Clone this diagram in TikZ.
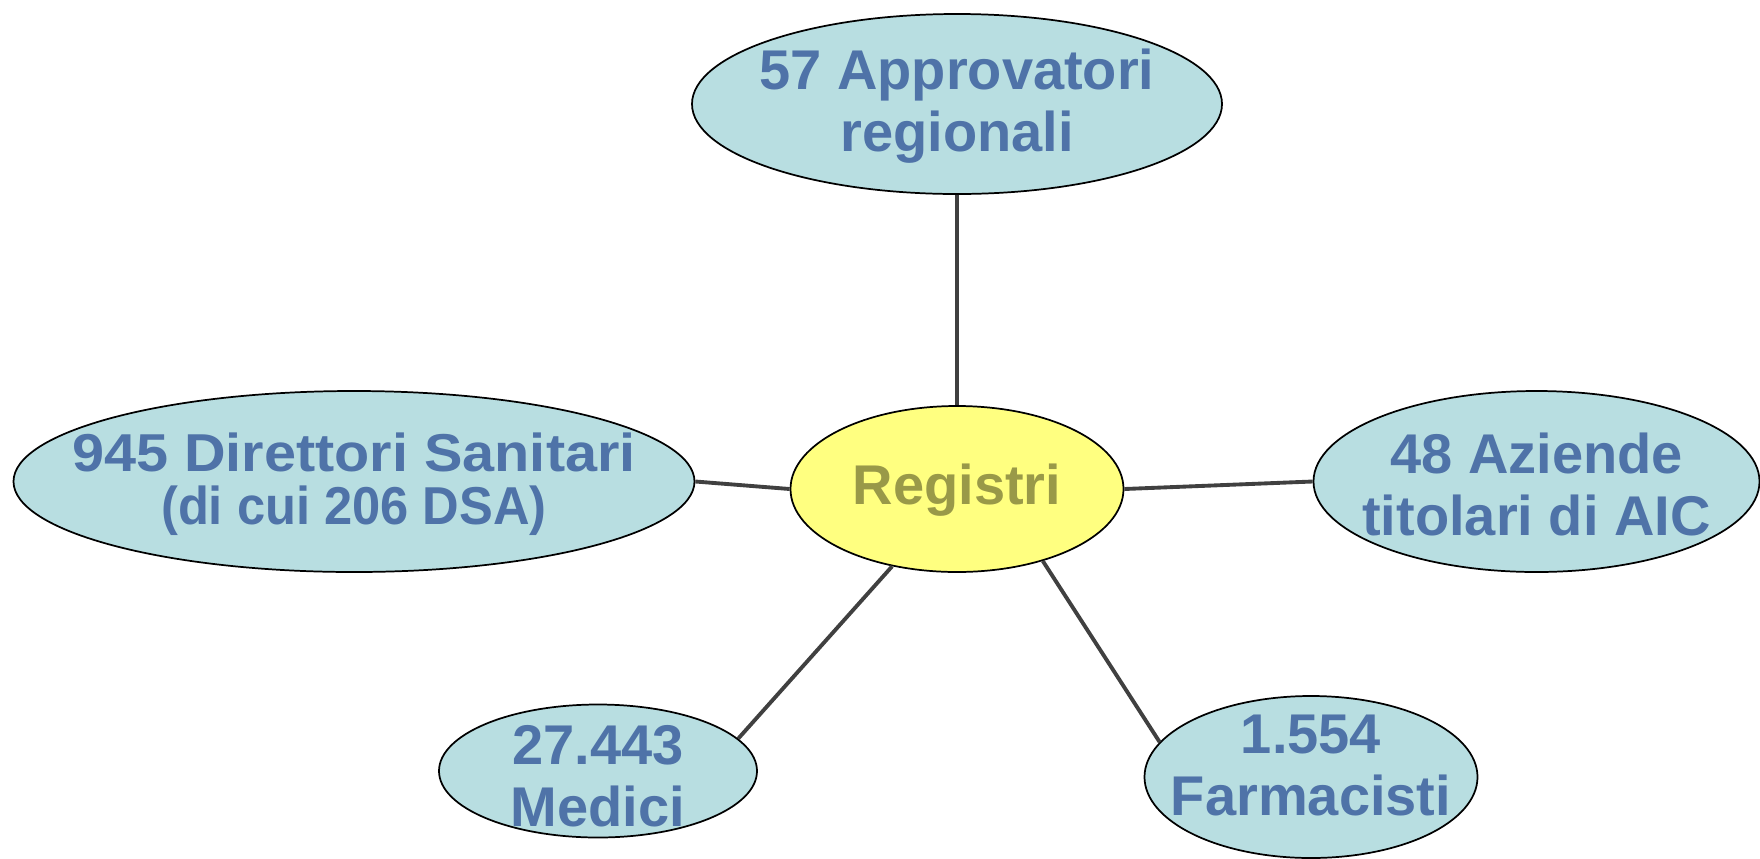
\documentclass[tikz,border=0pt]{standalone}
\usepackage{fontspec}
\setmainfont{Liberation Sans}
\usetikzlibrary{shapes.geometric}
\definecolor{txtblue}{HTML}{4F73A8}
\definecolor{txtolive}{HTML}{999948}
\definecolor{cyanfill}{HTML}{B8DEE1}
\definecolor{yelfill}{HTML}{FFFF80}
\definecolor{linegray}{HTML}{404040}
\tikzset{
  ell/.style={ellipse, draw=black, line width=1.3pt, fill=cyanfill, inner sep=0pt},
  centre/.style={ell, fill=yelfill},
  lbl/.style={align=center, text=txtblue, font=\bfseries\fontsize{42}{46.5}\selectfont, inner sep=0pt},
  conn/.style={draw=linegray, line width=2.9pt}
}
\begin{document}
\begin{tikzpicture}[x=0.75pt, y=-0.75pt]
\useasboundingbox (0,0) rectangle (1760,858);
% ellipses (sizes in pt = px * 0.75)
\node[ell, minimum width=397.5pt, minimum height=135pt] (top) at (957,104) {};
\node[centre, minimum width=249.75pt, minimum height=124.5pt] (reg) at (957,489) {};
\node[ell, minimum width=510.75pt, minimum height=135.75pt] (left) at (354,481.5) {};
\node[ell, minimum width=334.5pt, minimum height=135.75pt] (right) at (1536.5,481.5) {};
\node[ell, minimum width=238.5pt, minimum height=99.75pt] (med) at (598,771) {};
\node[ell, minimum width=249.75pt, minimum height=121.5pt] (farm) at (1311,777) {};
% connectors
\draw[conn] (top.south) -- (reg.north);
\draw[conn] (left.east) -- (reg.west);
\draw[conn] (reg.east) -- (right.west);
\draw[conn] (reg.230) -- (med.13);
\draw[conn] (reg.-40.5) -- (farm.167);
% texts
\node[lbl] (topT) at (957,106) {57 Approvatori\\regionali};
\node[lbl, text=txtolive] (regT) at (957,490) {Registri};
\node[lbl, font=\bfseries\fontsize{40}{40}\selectfont] (leftT) at (354,484) {\scalebox{1.08}[1]{945 Direttori Sanitari}\\\scalebox{0.95}[1]{(di cui 206 DSA)}};
\node[lbl] (rightT) at (1536.5,484) {48 Aziende\\titolari di AIC};
\node[lbl] (medT) at (598,776) {27.443\\Medici};
\node[lbl] (farmT) at (1311,765) {1.554\\Farmacisti};
\end{tikzpicture}
\end{document}
